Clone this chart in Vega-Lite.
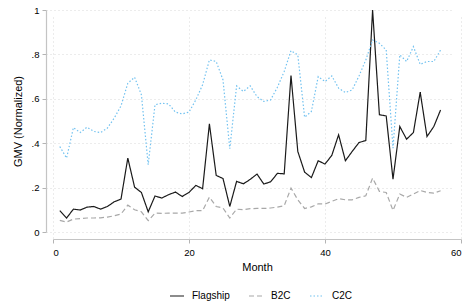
{
  "$schema": "https://vega.github.io/schema/vega-lite/v6.json",
  "width": 408,
  "height": 222,
  "autosize": {"type": "none"},
  "padding": {"left": 53, "top": 10, "right": 6, "bottom": 70},
  "background": "white",
  "config": {
    "font": "Liberation Sans",
    "view": {"stroke": null},
    "axis": {
      "domainColor": "#c4c4c4",
      "domainWidth": 1.2,
      "tickColor": "#b4b4b4",
      "tickSize": 4,
      "labelFontSize": 9.5,
      "labelColor": "#000",
      "titleFontSize": 11,
      "titleFontWeight": "normal",
      "titleColor": "#000",
      "gridColor": "#d8d8d8",
      "gridDash": [1, 3],
      "offset": 7
    }
  },
  "data": {
    "values": [
      {"m":1,"Flagship":0.096,"B2C":0.052,"C2C":0.385},
      {"m":2,"Flagship":0.063,"B2C":0.045,"C2C":0.333},
      {"m":3,"Flagship":0.103,"B2C":0.058,"C2C":0.47},
      {"m":4,"Flagship":0.099,"B2C":0.06,"C2C":0.448},
      {"m":5,"Flagship":0.112,"B2C":0.063,"C2C":0.472},
      {"m":6,"Flagship":0.115,"B2C":0.063,"C2C":0.453},
      {"m":7,"Flagship":0.103,"B2C":0.064,"C2C":0.448},
      {"m":8,"Flagship":0.115,"B2C":0.067,"C2C":0.468},
      {"m":9,"Flagship":0.136,"B2C":0.073,"C2C":0.513},
      {"m":10,"Flagship":0.148,"B2C":0.081,"C2C":0.568},
      {"m":11,"Flagship":0.333,"B2C":0.121,"C2C":0.67},
      {"m":12,"Flagship":0.202,"B2C":0.1,"C2C":0.697},
      {"m":13,"Flagship":0.178,"B2C":0.091,"C2C":0.618},
      {"m":14,"Flagship":0.091,"B2C":0.051,"C2C":0.303},
      {"m":15,"Flagship":0.162,"B2C":0.085,"C2C":0.573},
      {"m":16,"Flagship":0.153,"B2C":0.084,"C2C":0.58},
      {"m":17,"Flagship":0.168,"B2C":0.085,"C2C":0.577},
      {"m":18,"Flagship":0.18,"B2C":0.085,"C2C":0.54},
      {"m":19,"Flagship":0.16,"B2C":0.085,"C2C":0.532},
      {"m":20,"Flagship":0.178,"B2C":0.09,"C2C":0.54},
      {"m":21,"Flagship":0.21,"B2C":0.096,"C2C":0.595},
      {"m":22,"Flagship":0.195,"B2C":0.096,"C2C":0.663},
      {"m":23,"Flagship":0.487,"B2C":0.157,"C2C":0.775},
      {"m":24,"Flagship":0.255,"B2C":0.115,"C2C":0.768},
      {"m":25,"Flagship":0.241,"B2C":0.108,"C2C":0.685},
      {"m":26,"Flagship":0.115,"B2C":0.063,"C2C":0.375},
      {"m":27,"Flagship":0.228,"B2C":0.103,"C2C":0.658},
      {"m":28,"Flagship":0.217,"B2C":0.1,"C2C":0.633},
      {"m":29,"Flagship":0.237,"B2C":0.105,"C2C":0.658},
      {"m":30,"Flagship":0.261,"B2C":0.106,"C2C":0.61},
      {"m":31,"Flagship":0.216,"B2C":0.106,"C2C":0.588},
      {"m":32,"Flagship":0.226,"B2C":0.108,"C2C":0.595},
      {"m":33,"Flagship":0.264,"B2C":0.112,"C2C":0.652},
      {"m":34,"Flagship":0.262,"B2C":0.118,"C2C":0.723},
      {"m":35,"Flagship":0.705,"B2C":0.198,"C2C":0.817},
      {"m":36,"Flagship":0.363,"B2C":0.145,"C2C":0.798},
      {"m":37,"Flagship":0.27,"B2C":0.106,"C2C":0.517},
      {"m":38,"Flagship":0.245,"B2C":0.113,"C2C":0.543},
      {"m":39,"Flagship":0.321,"B2C":0.127,"C2C":0.7},
      {"m":40,"Flagship":0.306,"B2C":0.126,"C2C":0.678},
      {"m":41,"Flagship":0.345,"B2C":0.138,"C2C":0.703},
      {"m":42,"Flagship":0.438,"B2C":0.15,"C2C":0.648},
      {"m":43,"Flagship":0.321,"B2C":0.145,"C2C":0.628},
      {"m":44,"Flagship":0.363,"B2C":0.145,"C2C":0.64},
      {"m":45,"Flagship":0.403,"B2C":0.156,"C2C":0.703},
      {"m":46,"Flagship":0.412,"B2C":0.163,"C2C":0.775},
      {"m":47,"Flagship":1.0,"B2C":0.243,"C2C":0.865},
      {"m":48,"Flagship":0.528,"B2C":0.183,"C2C":0.85},
      {"m":49,"Flagship":0.523,"B2C":0.178,"C2C":0.82},
      {"m":50,"Flagship":0.238,"B2C":0.097,"C2C":0.378},
      {"m":51,"Flagship":0.475,"B2C":0.171,"C2C":0.798},
      {"m":52,"Flagship":0.418,"B2C":0.156,"C2C":0.768},
      {"m":53,"Flagship":0.448,"B2C":0.171,"C2C":0.835},
      {"m":54,"Flagship":0.63,"B2C":0.187,"C2C":0.755},
      {"m":55,"Flagship":0.43,"B2C":0.178,"C2C":0.768},
      {"m":56,"Flagship":0.475,"B2C":0.175,"C2C":0.768},
      {"m":57,"Flagship":0.55,"B2C":0.186,"C2C":0.82}
    ]
  },
  "transform": [{"fold": ["Flagship", "B2C", "C2C"], "as": ["series", "value"]}],
  "mark": {"type": "line", "strokeWidth": 1.2},
  "encoding": {
    "x": {
      "field": "m", "type": "quantitative",
      "scale": {"domain": [0, 60], "nice": false},
      "axis": {"values": [0, 20, 40, 60], "title": "Month", "labelPadding": 4, "titlePadding": 5, "grid": true}
    },
    "y": {
      "field": "value", "type": "quantitative",
      "scale": {"domain": [0, 1], "nice": false},
      "axis": {
        "values": [0, 0.2, 0.4, 0.6, 0.8, 1],
        "labelExpr": "datum.value == 0 ? '0' : datum.value == 1 ? '1' : '.' + format(datum.value * 10, '.0f')",
        "title": "GMV (Normalized)",
        "labelPadding": 3,
        "titlePadding": 8,
        "grid": true
      }
    },
    "color": {
      "field": "series", "type": "nominal",
      "scale": {"domain": ["Flagship", "B2C", "C2C"], "range": ["#1a1a1a", "#a8a8a8", "#72c2f0"]},
      "legend": {
        "title": null,
        "orient": "none",
        "direction": "horizontal",
        "legendX": 116,
        "legendY": 278,
        "symbolType": "stroke",
        "symbolSize": 196,
        "symbolStrokeWidth": 1.2,
        "labelFontSize": 10,
        "labelOffset": 7,
        "columnPadding": 16,
        "padding": 0
      }
    },
    "strokeDash": {
      "field": "series", "type": "nominal",
      "scale": {"domain": ["Flagship", "B2C", "C2C"], "range": [[1, 0], [5, 3], [1.5, 2]]},
      "legend": null
    }
  }
}
